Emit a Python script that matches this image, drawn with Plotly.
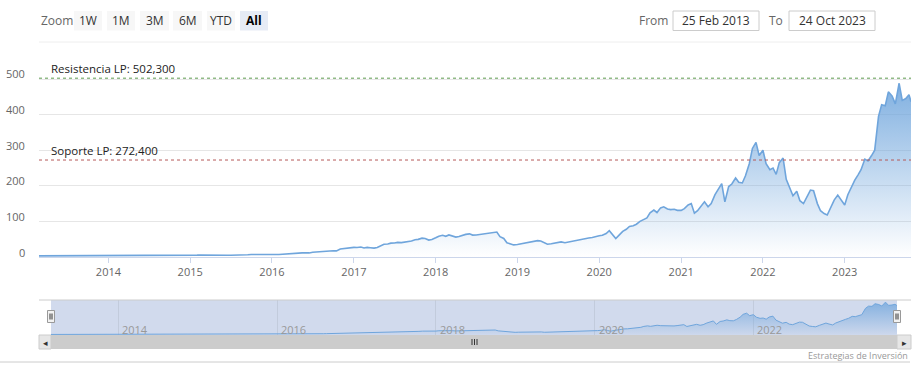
import pandas as pd
import plotly.graph_objects as go

W, H = 921, 371

# ---------------- data (semi-monthly closes) ----------------
p2013 = [3.2, 3.2, 3.3, 3.2, 3.2, 3.5, 3.6, 3.6, 3.5, 3.6, 3.6, 3.6, 3.7, 3.8, 3.9, 3.8, 3.8, 3.8, 3.9, 4.0, 3.9]
p2014 = [4.0, 4.0, 4.3, 4.6, 4.6, 4.5, 4.5, 4.6, 4.6, 4.8, 4.8, 4.7, 4.6, 4.4, 4.6, 4.8, 4.7, 4.6, 4.5, 4.6, 4.9, 5.0, 5.0, 5.0]
p2015 = [5.1, 5.0, 5.3, 5.6, 5.3, 5.3, 5.5, 5.6, 5.2, 5.4, 5.1, 5.0, 5.0, 4.9, 5.3, 5.5, 5.9, 6.2, 7.0, 7.2, 8.0, 8.2, 8.3, 8.0]
p2016 = [7.4, 7.2, 7.0, 7.8, 8.5, 8.8, 9.0, 9.2, 11.0, 11.5, 11.8, 11.5, 13.5, 13.8, 14.0, 15.2, 16.5, 16.8, 17.5, 17.2, 22.5, 23.5, 25.5, 26.5]
p2017 = [27.0, 26.5, 28.0, 25.5, 27.0, 26.0, 25.0, 26.5, 31.0, 36.0, 36.5, 39.0, 39.5, 41.0, 40.5, 41.5, 44.0, 45.0, 48.5, 49.5, 53.0, 52.0, 47.5, 49.0]
p2018 = [54.0, 58.5, 61.0, 58.0, 62.0, 60.0, 56.0, 57.5, 61.0, 63.5, 65.0, 61.5, 62.0, 63.0, 64.5, 66.0, 68.5, 68.0, 70.0, 57.0, 52.0, 40.0, 36.0, 34.0]
p2019 = [35.0, 37.0, 39.0, 40.5, 42.5, 44.0, 46.0, 45.0, 41.0, 36.0, 37.0, 39.0, 41.0, 42.5, 40.0, 42.0, 43.5, 44.5, 47.0, 49.5, 52.0, 53.5, 55.0, 58.0]
p2020 = [59.5, 61.0, 66.0, 74.0, 62.0, 52.0, 63.0, 72.0, 78.0, 86.0, 88.0, 92.0, 100.0, 104.0, 110.0, 124.0, 132.0, 125.0, 138.0, 141.0, 135.0, 133.0, 134.0, 131.0]
p2021 = [131.0, 136.0, 146.0, 150.0, 123.0, 130.0, 142.0, 155.0, 141.0, 150.0, 175.0, 190.0, 206.0, 155.0, 198.0, 205.0, 222.0, 210.0, 208.0, 228.0, 262.0, 305.0, 322.0, 285.0]
p2022 = [300.0, 262.0, 245.0, 250.0, 232.0, 265.0, 278.0, 218.0, 192.0, 172.0, 185.0, 158.0, 150.0, 168.0, 188.0, 186.0, 150.0, 130.0, 122.0, 118.0, 140.0, 160.0, 174.0, 160.0]
p2023 = [146.0, 175.0, 200.0, 216.0, 230.0, 245.0, 275.0, 270.0, 285.0, 300.0, 395.0, 428.0, 425.0, 464.0, 452.0, 430.0, 488.0, 440.0, 445.0, 456.0, 436.0]

prices = p2013 + p2014 + p2015 + p2016 + p2017 + p2018 + p2019 + p2020 + p2021 + p2022 + p2023
dates = ([pd.Timestamp("2013-02-25")]
         + list(pd.date_range("2013-03-01", "2023-10-15", freq="SMS"))
         + [pd.Timestamp("2023-10-24")])
assert len(dates) == len(prices), (len(dates), len(prices))

resist_value = 502.3
support_value = 272.4
resist_label = "Resistencia LP: 502,300"
support_label = "Soporte LP: 272,400"

y_ticks = [0, 100, 200, 300, 400, 500]
zoom_buttons = ["1W", "1M", "3M", "6M", "YTD", "All"]
nav_years = ["2014", "2016", "2018", "2020", "2022"]
from_date = "25 Feb 2013"
to_date = "24 Oct 2023"
credit = "Estrategias de Inversión"

FONT = "Open Sans, Noto Sans, DejaVu Sans, sans-serif"
LINE = "#6fa5dc"


def px(x):
    return x / W


def py(y):
    return 1 - y / H


fig = go.Figure()

# main series
fig.add_trace(go.Scatter(
    x=dates, y=prices, mode="lines",
    line=dict(color=LINE, width=1.6),
    fill="tozeroy",
    fillgradient=dict(type="vertical",
                      colorscale=[[0, "rgba(111,165,220,0.0)"], [1, "rgba(111,165,220,1)"]],
                      start=0, stop=553),
    hoverinfo="skip", showlegend=False, xaxis="x", yaxis="y"))

# navigator series
fig.add_trace(go.Scatter(
    x=dates, y=prices, mode="lines",
    line=dict(color=LINE, width=1),
    fill="tozeroy",
    fillgradient=dict(type="vertical",
                      colorscale=[[0, "rgba(111,165,220,0.05)"], [1, "rgba(111,165,220,0.8)"]],
                      start=0, stop=500),
    hoverinfo="skip", showlegend=False, xaxis="x2", yaxis="y2"))

x0, x1 = dates[0], dates[-1]
YMAX = (257 - 60) / 0.356

fig.update_layout(
    width=W, height=H,
    margin=dict(l=0, r=0, t=0, b=0),
    paper_bgcolor="white", plot_bgcolor="rgba(0,0,0,0)",
    font=dict(family=FONT, size=11, color="#666666"),
    xaxis=dict(domain=[px(39), px(911)], range=[x0, x1], type="date",
               tick0="2014-01-01", dtick="M12", tickformat="%Y",
               showgrid=False, zeroline=False,
               showline=True, linecolor="#ccd6eb", linewidth=1,
               ticks="outside", ticklen=5, tickcolor="#ccd6eb",
               tickfont=dict(family=FONT, size=11, color="#666666"),
               anchor="y", fixedrange=True),
    yaxis=dict(domain=[py(257), py(60)], range=[0, YMAX],
               tickvals=y_ticks, ticktext=["" for v in y_ticks],
               showgrid=True, gridcolor="#e6e6e6", gridwidth=1,
               zeroline=False, showline=False, ticks="",
               anchor="x", fixedrange=True),
    xaxis2=dict(domain=[px(51), px(897)], range=[x0, x1], type="date",
                tick0="2014-01-01", dtick="M24",
                showgrid=True, gridcolor="#c2cbdc", gridwidth=1,
                showticklabels=False, zeroline=False, showline=False,
                anchor="y2", fixedrange=True),
    yaxis2=dict(domain=[py(335), py(300)], range=[-5, 520],
                showgrid=False, showticklabels=False, zeroline=False,
                anchor="x2", fixedrange=True),
)

shapes = []
annotations = []


def rect(xa, ya, xb, yb, fill, line_color=None, lw=0, layer="above"):
    shapes.append(dict(type="rect", xref="paper", yref="paper",
                       x0=px(xa), x1=px(xb), y0=py(yb), y1=py(ya),
                       fillcolor=fill,
                       line=dict(color=line_color or fill, width=lw),
                       layer=layer))


def hline(xa, xb, y, color, w=1, dash="solid", layer="above"):
    shapes.append(dict(type="line", xref="paper", yref="paper",
                       x0=px(xa), x1=px(xb), y0=py(y), y1=py(y),
                       line=dict(color=color, width=w, dash=dash), layer=layer))


def vline(x, ya, yb, color, w=1, layer="above"):
    shapes.append(dict(type="line", xref="paper", yref="paper",
                       x0=px(x), x1=px(x), y0=py(yb), y1=py(ya),
                       line=dict(color=color, width=w), layer=layer))


def text(x, y, s, size=12, color="#333333", xanchor="center", bold=False):
    annotations.append(dict(x=px(x), y=py(y), xref="paper", yref="paper",
                            text=f"<b>{s}</b>" if bold else s, showarrow=False,
                            xanchor=xanchor, yanchor="middle",
                            font=dict(family=FONT, size=size, color=color)))


# y-axis labels (drawn on the y scale, sitting just above their grid lines)
for v in y_ticks:
    annotations.append(dict(x=px(27), y=v, xref="paper", yref="y", text=str(v),
                            showarrow=False, xanchor="right", yanchor="middle",
                            yshift=5,
                            font=dict(family=FONT, size=11, color="#666666")))

# --- range selector look-alike ---
text(39, 20.5, "Zoom", size=12, color="#666666", xanchor="left")
btn_x = [(74, 102), (107, 135), (140, 169), (173, 202), (207, 235), (240, 268)]
for (a, b), lab in zip(btn_x, zoom_buttons):
    sel = lab == "All"
    rect(a, 11, b, 30.5, "#e6ebf5" if sel else "#f7f7f7")
    text((a + b) / 2, 20.5, lab, size=12, color="#000000" if sel else "#333333", bold=sel)

text(653, 20.5, "From", size=12, color="#666666")
rect(673, 11, 759, 30.5, "white", "#cccccc", 1)
text(716, 20.5, from_date, size=12, color="#333333")
text(776, 20.5, "To", size=12, color="#666666")
rect(789, 11, 875, 30.5, "white", "#cccccc", 1)
text(832, 20.5, to_date, size=12, color="#333333")
hline(39, 911, 42, "#eeeeee")

# --- plot lines (resistance / support) ---
for val, col, lab in [(resist_value, "#5c9a4e", resist_label),
                      (support_value, "#b55a5a", support_label)]:
    shapes.append(dict(type="line", xref="paper", yref="y",
                       x0=px(39), x1=px(911), y0=val, y1=val,
                       line=dict(color=col, width=1, dash="dot"), layer="above"))
    annotations.append(dict(x=px(49), y=val, xref="paper", yref="y",
                            text=lab, showarrow=False, xanchor="left", yanchor="bottom",
                            font=dict(family=FONT, size=11.5, color="#222222")))

# --- navigator ---
rect(51, 300, 897, 335, "rgba(102,133,194,0.3)", layer="below")
hline(39, 911, 300, "#cccccc")
for yr in nav_years:
    annotations.append(dict(x=f"{yr}-01-01", y=py(329), xref="x2", yref="paper",
                            text=yr, showarrow=False, xanchor="left", yanchor="middle",
                            xshift=2,
                            font=dict(family=FONT, size=11, color="#999999")))
# handles
for hx in (51, 897):
    rect(hx - 3.5, 310.5, hx + 3.5, 322.5, "#f2f2f2", "#999999", 1)
    vline(hx - 1, 313.5, 319.5, "#333333", 1)
    vline(hx + 1, 313.5, 319.5, "#333333", 1)

# --- scrollbar ---
rect(39, 335, 911, 349, "#f2f2f2")
rect(51, 335, 897, 349, "#cccccc")
rect(39, 335, 51, 349, "#e6e6e6", "#cccccc", 1)
rect(897, 335, 911, 349, "#e6e6e6", "#cccccc", 1)
text(45, 342, "◂", size=9, color="#333333")
text(904, 342, "▸", size=9, color="#333333")
for gx in (472, 474.5, 477):
    vline(gx, 339, 345, "#333333", 1)

# --- footer ---
hline(0, 910, 362, "#cccccc")
text(910, 355, credit, size=9, color="#999999", xanchor="right")

fig.update_layout(shapes=shapes, annotations=annotations)
fig.write_html("out.html", config={"displayModeBar": False},
               post_script="document.body.style.margin='0';document.body.style.overflow='hidden';")
